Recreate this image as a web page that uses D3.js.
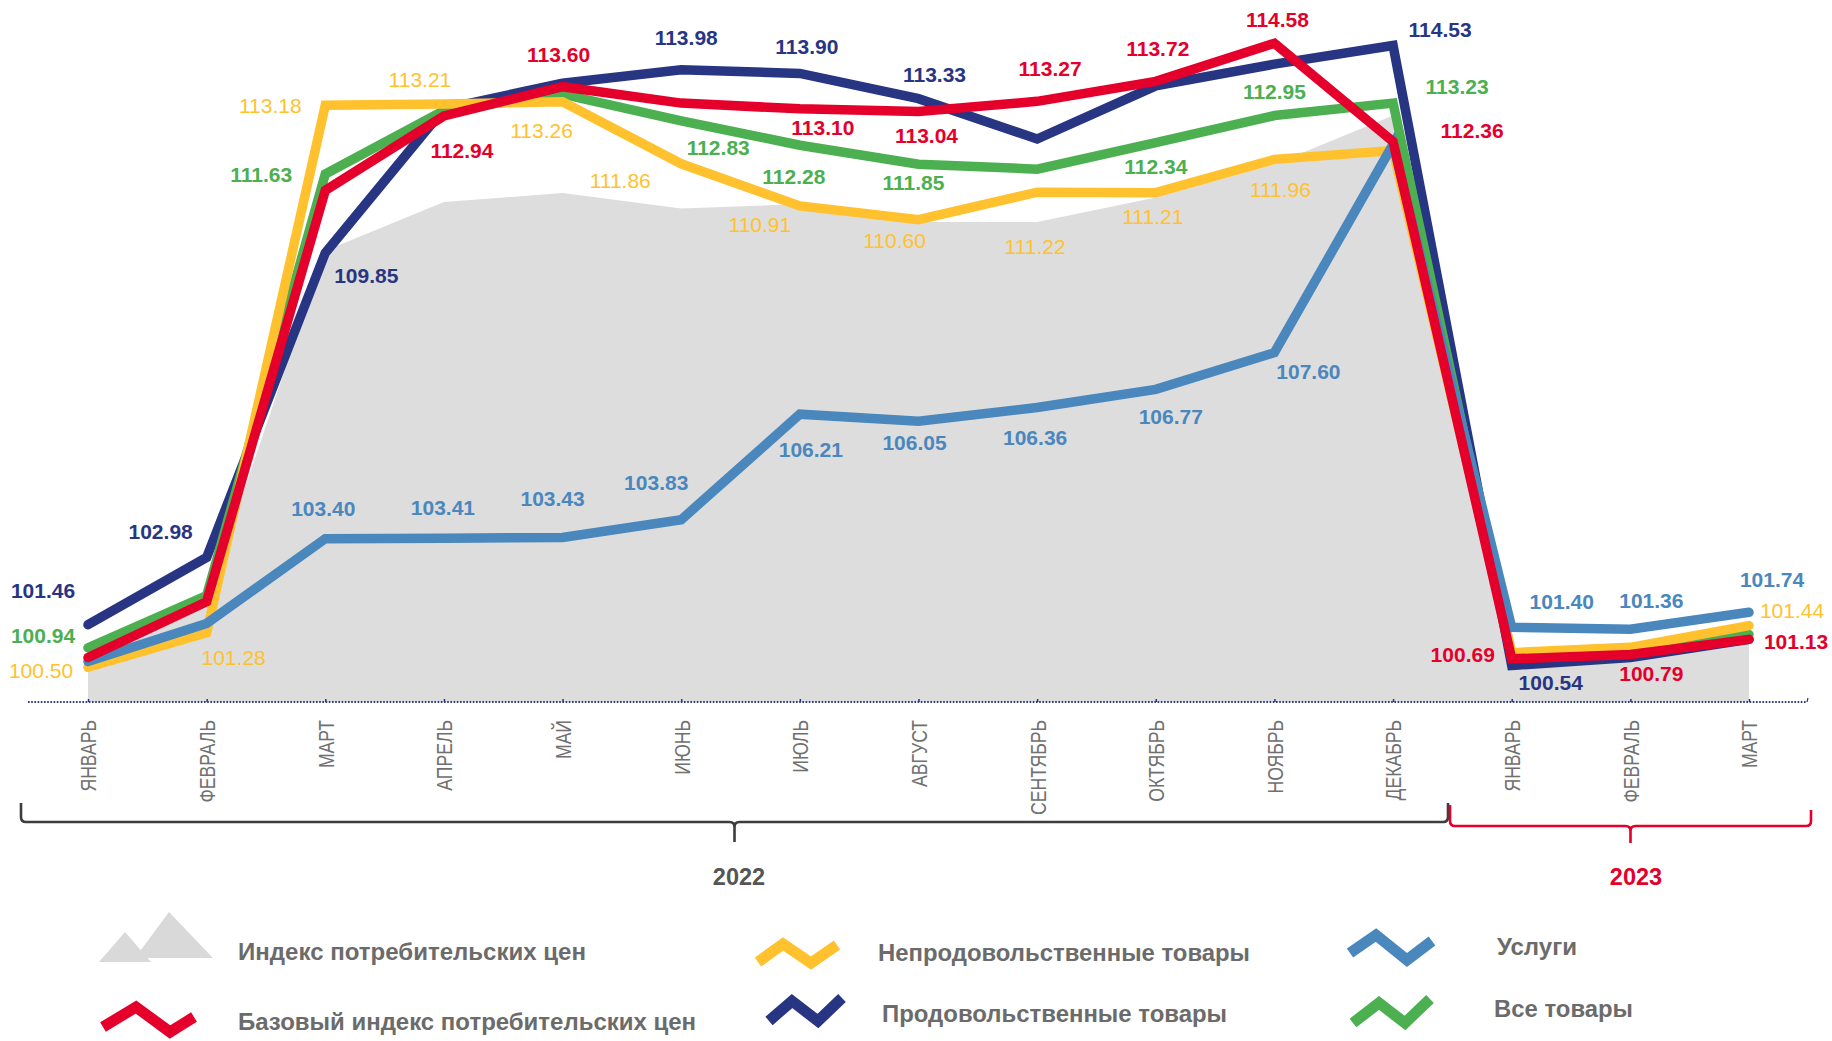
<!DOCTYPE html>
<html>
<head>
<meta charset="utf-8">
<script src="https://cdn.jsdelivr.net/npm/d3@7"></script>
<style>
  html, body { margin: 0; padding: 0; background: #ffffff; }
  svg { display: block; }
  text { font-family: "Liberation Sans", Arial, Helvetica, sans-serif; }
</style>
</head>
<body>
<svg id="chart" width="1832" height="1041"></svg>
<script>
// ---------------- DATA ----------------
const months = ["ЯНВАРЬ","ФЕВРАЛЬ","МАРТ","АПРЕЛЬ","МАЙ","ИЮНЬ","ИЮЛЬ","АВГУСТ",
                "СЕНТЯБРЬ","ОКТЯБРЬ","НОЯБРЬ","ДЕКАБРЬ","ЯНВАРЬ","ФЕВРАЛЬ","МАРТ"];
const years = ["2022", "2023"];

// Индекс потребительских цен (grey area)
const cpi       = [100.85, 102.00, 109.90, 111.00, 111.20, 110.85, 110.95, 110.55, 110.55, 111.10, 111.85, 112.95, 100.70, 100.85, 101.10];
// Продовольственные товары
const food      = [101.46, 102.98, 109.85, 113.10, 113.68, 113.98, 113.90, 113.33, 112.42, 113.62, 114.11, 114.53, 100.54, 100.72, 101.13];
// Все товары
const allGoods  = [100.94, 102.12, 111.63, 113.06, 113.43, 112.83, 112.28, 111.85, 111.74, 112.34, 112.95, 113.23, 100.75, 100.85, 101.24];
// Непродовольственные товары
const nonFood   = [100.50, 101.28, 113.18, 113.21, 113.26, 111.86, 110.91, 110.60, 111.22, 111.21, 111.96, 112.16, 100.83, 100.95, 101.44];
// Услуги
const services  = [100.63, 101.49, 103.40, 103.41, 103.43, 103.83, 106.21, 106.05, 106.36, 106.77, 107.60, 112.30, 101.40, 101.36, 101.74];
// Базовый индекс потребительских цен
const core      = [100.72, 101.98, 111.26, 112.94, 113.60, 113.23, 113.10, 113.04, 113.27, 113.72, 114.58, 112.36, 100.69, 100.79, 101.13];

// which months carry a value label
const foodLabelled     = [0, 1, 2, 5, 6, 7, 11, 12];
const allGoodsLabelled = [0, 2, 5, 6, 7, 9, 10, 11];
const nonFoodLabelled  = [0, 1, 2, 3, 4, 5, 6, 7, 8, 9, 10, 14];
const servicesLabelled = [2, 3, 4, 5, 6, 7, 8, 9, 10, 12, 13, 14];
const coreLabelled     = [3, 4, 6, 7, 8, 9, 10, 11, 12, 13, 14];

const legendLabels = ["Индекс потребительских цен", "Базовый индекс потребительских цен",
                      "Непродовольственные товары", "Продовольственные товары",
                      "Услуги", "Все товары"];

// ---------------- LAYOUT / STYLE (kept apart from data) ----------------
const C = {
  navy: "#283583", red: "#e4002b", green: "#4caf50", yellow: "#ffc22e",
  blue: "#4a87bd", grey: "#dddddd", text: "#6b6b6b"
};
// label offsets [dx, dy] relative to point (dy to text baseline)
const labelOffsets = {
  food:     {0:[-45,-24], 1:[-46,-16], 2:[41,33], 5:[5,-22], 6:[7,-17], 7:[16,-14], 11:[47,-6], 12:[39,27]},
  allGoods: {0:[-45,-2], 2:[-64,10], 5:[37,37], 6:[-6,41], 7:[-5,28], 9:[0,34], 10:[0,-14], 11:[64,-7]},
  nonFood:  {0:[-47,13], 1:[27,35], 2:[-55,10], 3:[-24,-14], 4:[-21,39], 5:[-61,27], 6:[-40,29],
             7:[-24,31], 8:[-2,64], 9:[-3,34], 10:[6,40], 14:[43,-5]},
  services: {2:[-2,-20], 3:[-1,-21], 4:[-10,-29], 5:[-25,-27], 6:[11,45], 7:[-4,31], 8:[-2,40],
             9:[15,37], 10:[34,29], 12:[50,-16], 13:[21,-19], 14:[23,-23]},
  core:     {3:[18,45], 4:[-4,-22], 6:[23,29], 7:[8,34], 8:[13,-23], 9:[2,-23], 10:[3,-14],
             11:[79,-1], 12:[-49,6], 13:[21,29], 14:[47,12]}
};
const labelShift = -2.5;

const svg = d3.select("#chart");

const x = d3.scalePoint().domain(d3.range(months.length)).range([88, 1749]);
const y = d3.scaleLinear().domain([99.66, 115.5]).range([704.5, 2.5]);
const baseY = 702;

// ---------------- AREA (CPI) ----------------
const area = d3.area().x((d, i) => x(i)).y0(baseY).y1(d => y(d));
svg.append("path").datum(cpi).attr("d", area).attr("fill", C.grey);

// ---------------- AXIS ----------------
svg.append("line")
  .attr("x1", 28).attr("x2", 1807).attr("y1", baseY).attr("y2", baseY)
  .attr("stroke", C.navy).attr("stroke-width", 1.8).attr("stroke-dasharray", "1.6,1.6");
svg.append("line")
  .attr("x1", 1807).attr("x2", 1808).attr("y1", baseY).attr("y2", baseY - 4)
  .attr("stroke", C.navy).attr("stroke-width", 1.2);

const axis = d3.axisBottom(x).tickSizeInner(-3).tickSizeOuter(0).tickFormat(i => months[i]);
const gAxis = svg.append("g").attr("transform", `translate(0,${baseY})`).call(axis);
gAxis.select(".domain").remove();
gAxis.selectAll(".tick line").attr("stroke", C.navy).attr("stroke-width", 1.5);
gAxis.selectAll(".tick text")
  .attr("x", 0).attr("y", 0).attr("dy", "0.36em")
  .attr("transform", "translate(0,18) rotate(-90) scale(0.8,1)")
  .attr("text-anchor", "end")
  .attr("fill", "#707070")
  .attr("font-size", 22)
  .attr("font-family", "\"Liberation Sans\", Arial, sans-serif");

// ---------------- LINES ----------------
const line = d3.line().x((d, i) => x(i)).y(d => y(d));
const series = [
  {key: "food",     data: food,     color: C.navy,   labelled: foodLabelled,     bold: true},
  {key: "allGoods", data: allGoods, color: C.green,  labelled: allGoodsLabelled, bold: true},
  {key: "nonFood",  data: nonFood,  color: C.yellow, labelled: nonFoodLabelled,  bold: false},
  {key: "services", data: services, color: C.blue,   labelled: servicesLabelled, bold: true},
  {key: "core",     data: core,     color: C.red,    labelled: coreLabelled,     bold: true}
];
series.forEach(s => {
  svg.append("path").datum(s.data).attr("d", line)
    .attr("fill", "none").attr("stroke", s.color).attr("stroke-width", 9.5)
    .attr("stroke-linecap", "round").attr("stroke-linejoin", "miter").attr("stroke-miterlimit", 4);
});

// ---------------- VALUE LABELS ----------------
series.forEach(s => {
  svg.append("g").selectAll("text").data(s.labelled).join("text")
    .attr("x", i => x(i) + labelOffsets[s.key][i][0])
    .attr("y", i => y(s.data[i]) + labelOffsets[s.key][i][1] + labelShift)
    .attr("text-anchor", "middle")
    .attr("font-size", 21)
    .attr("font-weight", s.bold ? "bold" : "normal")
    .attr("fill", s.color)
    .text(i => s.data[i].toFixed(2));
});

// ---------------- YEAR BRACKETS ----------------
function bracePath(x0, x1, yEnd0, yEnd1, yH, yTip) {
  const xm = (x0 + x1) / 2, r = 5;
  return `M${x0},${yEnd0} L${x0},${yH - r} Q${x0},${yH} ${x0 + r},${yH} L${xm - r},${yH} Q${xm},${yH} ${xm},${yH + r} L${xm},${yTip}` +
         ` M${xm},${yH + r} Q${xm},${yH} ${xm + r},${yH} L${x1 - r},${yH} Q${x1},${yH} ${x1},${yH - r} L${x1},${yEnd1}`;
}
svg.append("path").attr("d", bracePath(21, 1448, 803, 803, 822, 842))
  .attr("fill", "none").attr("stroke", "#3d3d3d").attr("stroke-width", 2.6);
svg.append("path").attr("d", bracePath(1450, 1811, 805, 810, 826, 843))
  .attr("fill", "none").attr("stroke", C.red).attr("stroke-width", 2.6);

svg.append("text").attr("x", 739).attr("y", 885).attr("text-anchor", "middle")
  .attr("font-size", 23.5).attr("font-weight", "bold").attr("fill", "#555555").text(years[0]);
svg.append("text").attr("x", 1636).attr("y", 885).attr("text-anchor", "middle")
  .attr("font-size", 23.5).attr("font-weight", "bold").attr("fill", C.red).text(years[1]);

// ---------------- LEGEND ----------------
const gLeg = svg.append("g");
// grey mountains
gLeg.append("path").attr("d", "M99,962 L125,932 L151,962 Z").attr("fill", "#d9d9d9");
gLeg.append("path").attr("d", "M135,958 L169,912 L213,958 Z").attr("fill", "#d9d9d9");

const legendIcons = [
  {color: C.red,    pts: [[103,1027],[136,1007],[170,1032],[194,1017]]},
  {color: C.yellow, pts: [[758,962],[783,944],[811,963],[837,945]]},
  {color: C.navy,   pts: [[769,1021],[792,1001],[818,1021],[842,998]]},
  {color: C.blue,   pts: [[1350,953],[1376,935],[1407,960],[1432,941]]},
  {color: C.green,  pts: [[1353,1023],[1379,1003],[1405,1023],[1430,999]]}
];
legendIcons.forEach(ic => {
  gLeg.append("path").attr("d", d3.line()(ic.pts))
    .attr("fill", "none").attr("stroke", ic.color).attr("stroke-width", 11)
    .attr("stroke-linejoin", "miter").attr("stroke-linecap", "butt");
});

const legendPos = [
  {x: 238, y: 960, w: 348},
  {x: 238, y: 1030, w: 458},
  {x: 878, y: 961, w: 372},
  {x: 882, y: 1022, w: 345},
  {x: 1497, y: 955, w: 80},
  {x: 1494, y: 1017, w: 139}
];
legendLabels.forEach((t, i) => {
  gLeg.append("text").attr("x", legendPos[i].x).attr("y", legendPos[i].y)
    .attr("font-size", 23.5).attr("font-weight", "bold").attr("fill", C.text)
    .attr("textLength", legendPos[i].w).attr("lengthAdjust", "spacingAndGlyphs")
    .text(t);
});
</script>
</body>
</html>
